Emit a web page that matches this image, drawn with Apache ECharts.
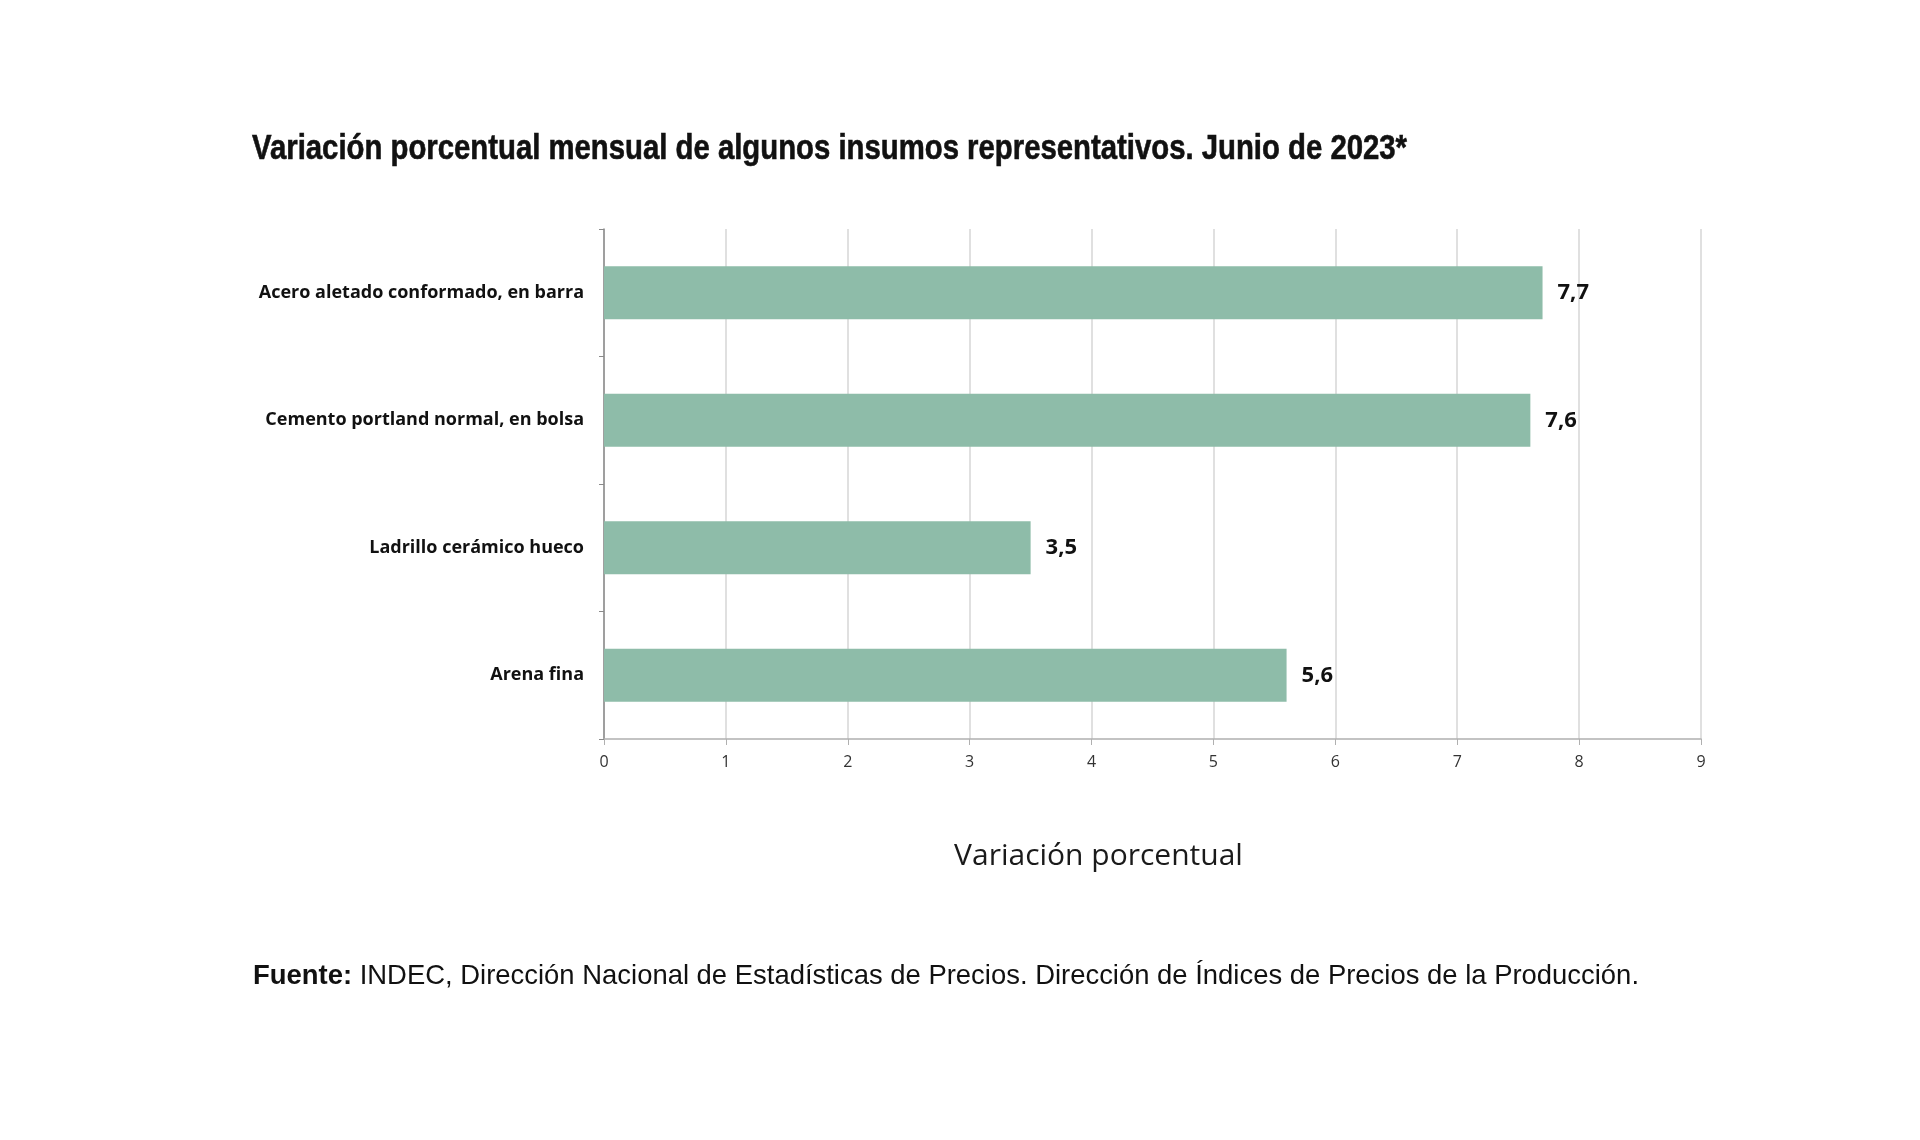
<!DOCTYPE html>
<html>
<head>
<meta charset="utf-8">
<script src="https://cdn.jsdelivr.net/npm/echarts@6/dist/echarts.min.js"></script>
<style>
html,body{margin:0;padding:0;background:#fff;}
#chart{width:1920px;height:1140px;}
</style>
</head>
<body>
<div id="chart"></div>
<script>
const titleText = 'Variación porcentual mensual de algunos insumos representativos. Junio de 2023*';
const sourceLabel = 'Fuente:';
const sourceText = ' INDEC, Dirección Nacional de Estadísticas de Precios. Dirección de Índices de Precios de la Producción.';
const axisName = 'Variación porcentual';
const categories = ['Acero aletado conformado, en barra', 'Cemento portland normal, en bolsa', 'Ladrillo cerámico hueco', 'Arena fina'];
const values = [7.7, 7.6, 3.5, 5.6];
const xTicks = [0, 1, 2, 3, 4, 5, 6, 7, 8, 9];

const titleFont = 'bold 35px "Liberation Sans", Arial, sans-serif';
const srcBoldFont = 'bold 28px "Liberation Sans", Arial, sans-serif';
const srcFont = '28px "Liberation Sans", Arial, sans-serif';
const mctx = document.createElement('canvas').getContext('2d');
function textW(t, f) { mctx.font = f; return mctx.measureText(t).width; }
const titleScale = 1155 / textW(titleText, titleFont);
const wBold = textW(sourceLabel, srcBoldFont);
const srcScale = 1386 / (wBold + textW(sourceText, srcFont));

const chart = echarts.init(document.getElementById('chart'), null, {renderer: 'canvas'});
chart.setOption({
  backgroundColor: '#ffffff',
  animation: false,
  graphic: [
    {
      type: 'text',
      x: 252, y: 149,
      scaleX: titleScale,
      style: {text: titleText, font: titleFont, fill: '#111', stroke: '#111', lineWidth: 0.6, align: 'left', verticalAlign: 'middle'}
    },
    {
      type: 'group',
      x: 253, y: 976,
      scaleX: srcScale,
      children: [
        {type: 'text', x: 0, y: 0, style: {text: sourceLabel, font: srcBoldFont, fill: '#111', align: 'left', verticalAlign: 'middle'}},
        {type: 'text', x: wBold, y: 0, style: {text: sourceText, font: srcFont, fill: '#111', align: 'left', verticalAlign: 'middle'}}
      ]
    }
  ],
  grid: {left: 604, right: 219, top: 229, bottom: 401, containLabel: false},
  xAxis: {
    type: 'value',
    min: 0,
    max: 9,
    interval: 1,
    name: axisName,
    nameLocation: 'middle',
    nameGap: 102,
    nameTextStyle: {fontFamily: '"Open Sans", sans-serif', fontSize: 30, color: '#1a1a1a', padding: [0, 108, 0, 0]},
    axisLine: {show: true, lineStyle: {color: '#b0b0b0', width: 1.5}},
    axisTick: {show: true, length: 6, lineStyle: {color: '#b0b0b0'}},
    axisLabel: {
      fontFamily: '"Open Sans", sans-serif', fontSize: 16, color: '#333', margin: 15,
      formatter: v => String(xTicks[v] !== undefined ? xTicks[v] : v)
    },
    splitLine: {show: true, lineStyle: {color: '#d6d6d6', width: 1.5}}
  },
  yAxis: {
    type: 'category',
    data: categories,
    inverse: true,
    axisLine: {show: true, lineStyle: {color: '#8a8a8a', width: 1.5}},
    axisTick: {show: true, length: 5, lineStyle: {color: '#8a8a8a'}},
    axisLabel: {
      fontFamily: '"Open Sans", sans-serif', fontWeight: 'bold', fontSize: 18, color: '#111', margin: 20,
      padding: [4, 0, 0, 0]
    },
    splitLine: {show: false}
  },
  series: [{
    type: 'bar',
    data: values,
    barWidth: 53,
    itemStyle: {color: '#8ebca9'},
    label: {
      show: true,
      position: 'right',
      distance: 15,
      padding: [4, 0, 0, 0],
      fontFamily: '"Open Sans", sans-serif',
      fontWeight: 'bold',
      fontSize: 22,
      color: '#111',
      formatter: p => String(p.value).replace('.', ',')
    }
  }]
});
</script>
</body>
</html>
